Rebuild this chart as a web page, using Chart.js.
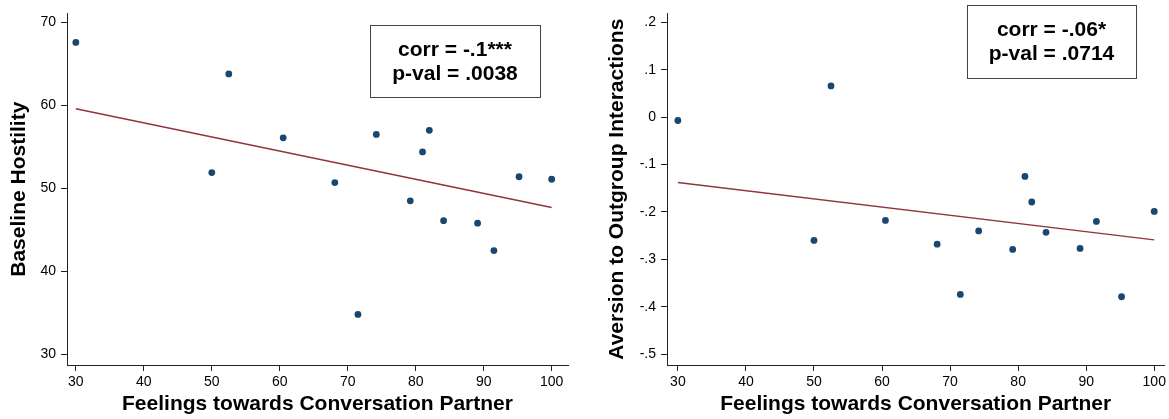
<!DOCTYPE html>
<html>
<head>
<meta charset="utf-8">
<script src="https://cdn.jsdelivr.net/npm/chart.js@4.4.1/dist/chart.umd.min.js"></script>
<style>
  body { margin: 0; background: #fff; }
  .wrap { position: absolute; top: 0; height: 419px; }
  #w1 { left: 0; width: 584px; }
  #w2 { left: 584px; width: 585px; }
</style>
</head>
<body>
<div class="wrap" id="w1"><canvas id="c1"></canvas></div>
<div class="wrap" id="w2"><canvas id="c2"></canvas></div>
<script>
// feelings towards conversation partner (x, shared by both panels)
const feelings = [30, 52.5, 50, 60.5, 68.1, 71.5, 74.2, 79.2, 81, 82, 84.1, 89.1, 91.5, 95.2, 100];
// left panel
const hostility = [67.6, 63.8, 51.9, 56.1, 50.7, 34.8, 56.5, 48.5, 54.4, 57.0, 46.1, 45.8, 42.5, 51.4, 51.1];
// right panel
const aversion = [-0.007, 0.066, -0.26, -0.218, -0.268, -0.374, -0.240, -0.279, -0.125, -0.179, -0.243, -0.277, -0.220, -0.379, -0.199];

// fitted lines (ends at x = 30 and x = 100)
const fitX = [30, 100];
const hostilityFit = [59.6, 47.7];
const aversionFit = [-0.138, -0.259];

const xTicks = [30, 40, 50, 60, 70, 80, 90, 100];
const hostilityTicks = [30, 40, 50, 60, 70];
const aversionTicks = [-0.5, -0.4, -0.3, -0.2, -0.1, 0, 0.1, 0.2];

const statsLeft = ['corr = -.1***', 'p-val = .0038'];
const statsRight = ['corr = -.06*', 'p-val = .0714'];

const FONT = '"Liberation Sans", Arial, Helvetica, sans-serif';
const DOT = '#1a476f';
const FIT = '#90353b';
const AXIS = '#222';

// stata style number labels: .2, -.1, 0
function stataFmt(v) {
    if (Math.abs(v) < 1e-9) return '0';
    if (Number.isInteger(v)) return String(v);
    return v.toFixed(1).replace(/^(-?)0\./, '$1.');
}

function pts(xs, ys) {
    return xs.map((x, i) => ({ x: x, y: ys[i] }));
}

// box with the correlation text
const statsBox = {
    id: 'statsBox',
    afterDraw(chart, args, opts) {
        const ctx = chart.ctx;
        const b = opts.box;
        ctx.save();
        ctx.fillStyle = '#fff';
        ctx.fillRect(b.x, b.y, b.w, b.h);
        ctx.strokeStyle = '#444';
        ctx.lineWidth = 1;
        ctx.strokeRect(b.x + 0.5, b.y + 0.5, b.w, b.h);
        ctx.fillStyle = '#000';
        ctx.font = 'bold 21px ' + FONT;
        ctx.textAlign = 'center';
        ctx.textBaseline = 'middle';
        const cx = b.x + b.w / 2;
        const cy = b.y + b.h / 2;
        ctx.fillText(opts.lines[0], cx, cy - 11);
        ctx.fillText(opts.lines[1], cx, cy + 13);
        ctx.restore();
    }
};

function makeChart(id, ys, fitY, yTicks, yMin, yMax, xMin, xMax, yTitle, yWidth, yTitlePad, padRight, lines, box) {
    new Chart(document.getElementById(id), {
        type: 'scatter',
        data: {
            datasets: [
                {
                    data: pts(feelings, ys),
                    backgroundColor: DOT,
                    borderColor: DOT,
                    pointRadius: 3.4,
                    pointBorderWidth: 0
                },
                {
                    type: 'line',
                    data: pts(fitX, fitY),
                    borderColor: FIT,
                    borderWidth: 1.4,
                    pointRadius: 0,
                    fill: false
                }
            ]
        },
        options: {
            responsive: true,
            maintainAspectRatio: false,
            animation: false,
            layout: { padding: { top: 10, right: padRight, bottom: 0, left: 0 } },
            plugins: {
                legend: { display: false },
                tooltip: { enabled: false },
                statsBox: { lines: lines, box: box }
            },
            scales: {
                x: {
                    type: 'linear',
                    min: xMin,
                    max: xMax,
                    afterBuildTicks: s => { s.ticks = xTicks.map(v => ({ value: v })); },
                    afterFit: s => { s.height = 54; },
                    grid: { drawOnChartArea: false, drawTicks: true, tickLength: 6, color: AXIS },
                    border: { display: true, color: AXIS, width: 1 },
                    ticks: {
                        color: '#000',
                        padding: 3,
                        maxRotation: 0,
                        font: { family: FONT, size: 14 },
                        callback: v => stataFmt(v)
                    },
                    title: {
                        display: true,
                        text: 'Feelings towards Conversation Partner',
                        color: '#000',
                        padding: { top: 0, bottom: 2 },
                        font: { family: FONT, size: 21, weight: 'bold' }
                    }
                },
                y: {
                    type: 'linear',
                    min: yMin,
                    max: yMax,
                    afterBuildTicks: s => { s.ticks = yTicks.map(v => ({ value: v })); },
                    afterFit: s => { s.width = yWidth; },
                    grid: { drawOnChartArea: false, drawTicks: true, tickLength: 6, color: AXIS },
                    border: { display: true, color: AXIS, width: 1 },
                    ticks: {
                        color: '#000',
                        padding: 5,
                        font: { family: FONT, size: 14 },
                        callback: v => stataFmt(v)
                    },
                    title: {
                        display: true,
                        text: yTitle,
                        color: '#000',
                        padding: { top: yTitlePad, bottom: 0 },
                        font: { family: FONT, size: 21, weight: 'bold' }
                    }
                }
            }
        },
        plugins: [statsBox]
    });
}

makeChart('c1', hostility, hostilityFit, hostilityTicks, 28.7, 71.1, 28.7, 102.4,
    'Baseline Hostility', 67, 7, 16, statsLeft, { x: 370, y: 25, w: 170, h: 72 });
makeChart('c2', aversion, aversionFit, aversionTicks, -0.523, 0.219, 28.4, 101.5,
    'Aversion to Outgroup Interactions', 83, 21, 4, statsRight, { x: 383, y: 5, w: 169, h: 73 });
</script>
</body>
</html>
